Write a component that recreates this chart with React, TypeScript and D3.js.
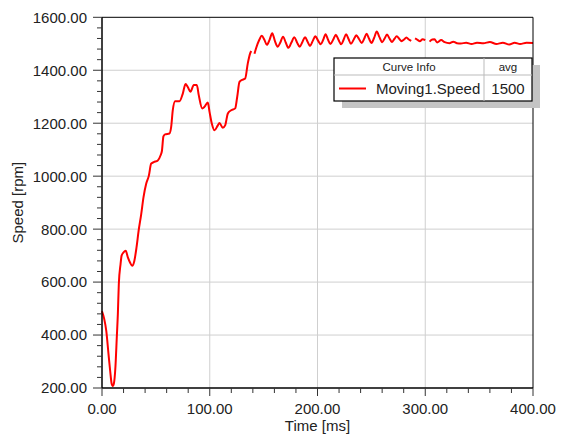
import React from "react";
import * as d3 from "d3";

// Moving1.Speed trace: time in ms, speed in rpm (NaN marks a break in the trace)
const timesMs: number[] = [
  0, 2, 4, 6, 7.5, 9, 10, 11, 12.5, 13.7, 14.7, 15.6, 17.2, 18.2, 20, 22, 24, 26, 28, 30,
  32, 34, 36.4, 38.5, 41, 43.5, 45.6, 48, 51.8, 54.3, 55.6, 57, 58.5, 62.6, 64.2, 65.7, 67.9, 71.9, 75, 77.5,
  79.6, 82.1, 85.2, 88, 89.8, 93, 95.1, 98.2, 99.8, 101.9, 104.4, 107.5, 109, 112.1, 114.3, 116.8, 119.9, 123.6, 125.5, 127.6,
  130.7, 132.9, 135.3, 137.5, 138.5, 139.8, 141.5, 143, 146, 148.3, 150.7, 153, 155.5, 158, 160.5, 163, 165.5, 168, 170.5, 173,
  175.8, 178.5, 181, 183.5, 186, 188.5, 190.8, 193, 195.5, 198, 200.5, 203, 205.3, 207.5, 209.8, 212, 214.5, 217, 219.5, 222,
  224.3, 226.5, 228.8, 231, 233.5, 236, 238.5, 241, 243.3, 245.5, 247.8, 250, 252.5, 255, 257.5, 260, 262.3, 264.5, 266.8, 269,
  271.3, 273.5, 276, 278, 280.3, 282.5, 284.8, 287, 288.5, 290.5, 292.8, 295, 297.5, 300, 302, 304, 306.5, 308.6, 311, 314.8,
  318, 322.5, 326, 329.5, 333, 338, 343, 348, 354, 360, 366, 372, 378, 383, 388, 394, 400,
];
const speedRpm: number[] = [
  490, 462, 415, 330, 268, 215, 207, 216, 282, 389, 478, 592, 667, 700, 712, 718, 693, 674, 662, 680,
  730, 794, 857, 920, 971, 1002, 1047, 1053, 1059, 1078, 1095, 1150, 1158, 1161, 1186, 1249, 1283, 1283, 1312, 1348,
  1337, 1319, 1344, 1344, 1306, 1256, 1262, 1278, 1243, 1199, 1173, 1192, 1201, 1183, 1192, 1237, 1249, 1256, 1300, 1356,
  1365, 1369, 1426, 1464, 1473, NaN, 1462, 1483, 1515, 1530, 1515, 1496, 1515, 1540, 1510, 1489, 1505, 1527, 1505, 1485,
  1505, 1525, 1505, 1489, 1507, 1525, 1508, 1492, 1510, 1528, 1512, 1498, 1515, 1536, 1515, 1499, 1515, 1534, 1515, 1498,
  1516, 1536, 1518, 1500, 1515, 1532, 1518, 1503, 1519, 1538, 1520, 1503, 1522, 1546, 1525, 1506, 1520, 1535, 1520, 1507,
  1518, 1528, 1518, 1510, 1516, 1524, 1516, 1511, NaN, 1520, 1515, 1510, 1517, 1514, NaN, 1508, 1516, 1517, 1505, 1514,
  1506, 1502, 1508, 1502, 1501, 1504, 1499, 1504, 1502, 1507, 1499, 1504, 1497, 1504, 1499, 1504, 1503,
];

const xTicks: number[] = [0, 100, 200, 300, 400];
const yTicks: number[] = [200, 400, 600, 800, 1000, 1200, 1400, 1600];
const seriesName = "Moving1.Speed";
const seriesAvg = "1500";

const W = 566;
const H = 438;
const left = 102;
const right = 533;
const top = 17.3;
const bottom = 388;
const FONT = "Arial, 'Liberation Sans', Helvetica, sans-serif";
const TEXT = "#222";

export default function App() {
  const x = d3.scaleLinear().domain([0, 400]).range([left, right]);
  const y = d3.scaleLinear().domain([200, 1600]).range([bottom, top]);

  const pts = timesMs.map((t, i) => [t, speedRpm[i]] as [number, number]);
  const line = d3
    .line<[number, number]>()
    .defined((d) => !Number.isNaN(d[1]))
    .x((d) => x(d[0]))
    .y((d) => y(d[1]))
    .curve(d3.curveMonotoneX);

  const xMinor = d3.range(0, 401, 20);
  const yMinor = d3.range(200, 1601, 40);

  // legend box geometry
  const lgL = 334, lgR = 532, lgT = 58, lgMid = 75, lgB = 101, lgCol = 484;

  return (
    <svg width={W} height={H} style={{ position: "absolute", left: 0, top: 0, background: "#fff" }}>
      <rect x={0} y={0} width={W} height={H} fill="#fff" />

      {/* grid */}
      {xTicks.slice(1, -1).map((t) => (
        <line key={"gx" + t} x1={x(t)} x2={x(t)} y1={top} y2={bottom} stroke="#cfcfcf" strokeWidth={1} />
      ))}
      {yTicks.slice(1, -1).map((v) => (
        <line key={"gy" + v} x1={left} x2={right} y1={y(v)} y2={y(v)} stroke="#cfcfcf" strokeWidth={1} />
      ))}

      {/* speed trace */}
      <path d={line(pts) || ""} fill="none" stroke="#ff0000" strokeWidth={2} strokeLinejoin="round" />

      {/* frame */}
      <line x1={left} x2={right} y1={top} y2={top} stroke="#000" strokeWidth={1} />
      <line x1={right} x2={right} y1={top} y2={bottom} stroke="#000" strokeWidth={1} />
      <line x1={left} x2={left} y1={top} y2={bottom} stroke="#000" strokeWidth={1.5} />
      <line x1={left} x2={right} y1={bottom} y2={bottom} stroke="#000" strokeWidth={1.5} />

      {/* y ticks */}
      {yMinor.map((v) => (
        <line key={"ym" + v} x1={left - (v % 200 === 0 ? 9 : 5)} x2={left} y1={y(v)} y2={y(v)} stroke="#333" strokeWidth={1} />
      ))}
      {yTicks.map((v) => (
        <text key={"yl" + v} x={left - 15} y={y(v)} dy="0.36em" textAnchor="end" fontFamily={FONT} fontSize={15} fill={TEXT}>
          {v.toFixed(2)}
        </text>
      ))}

      {/* x ticks */}
      {xMinor.map((t) => (
        <line key={"xm" + t} x1={x(t)} x2={x(t)} y1={bottom} y2={bottom + (t % 100 === 0 ? 8 : 5)} stroke="#333" strokeWidth={1} />
      ))}
      {xTicks.map((t) => (
        <text key={"xl" + t} x={x(t)} y={414} textAnchor="middle" fontFamily={FONT} fontSize={15} fill={TEXT}>
          {t.toFixed(2)}
        </text>
      ))}

      {/* axis titles */}
      <text x={(left + right) / 2} y={431} textAnchor="middle" fontFamily={FONT} fontSize={15} fill={TEXT}>
        Time [ms]
      </text>
      <text
        transform={`translate(23, ${(top + bottom) / 2}) rotate(-90)`}
        textAnchor="middle"
        fontFamily={FONT}
        fontSize={15}
        fill={TEXT}
      >
        Speed [rpm]
      </text>

      {/* legend */}
      <rect x={lgL + 8} y={lgT + 7} width={lgR - lgL} height={lgB - lgT} fill="#c4c4c4" />
      <rect x={lgL} y={lgT} width={lgR - lgL} height={lgB - lgT} fill="#fff" stroke="#000" strokeWidth={1.2} />
      <line x1={lgL} x2={lgR} y1={lgMid} y2={lgMid} stroke="#bbb" strokeWidth={1} />
      <line x1={lgCol} x2={lgCol} y1={lgT} y2={lgB} stroke="#bbb" strokeWidth={1} />
      <text x={(lgL + lgCol) / 2} y={71} textAnchor="middle" fontFamily={FONT} fontSize={11.5} fill={TEXT}>
        Curve Info
      </text>
      <text x={(lgCol + lgR) / 2} y={71} textAnchor="middle" fontFamily={FONT} fontSize={11.5} fill={TEXT}>
        avg
      </text>
      <line x1={339} x2={366} y1={88.5} y2={88.5} stroke="#ff0000" strokeWidth={2} />
      <text x={376} y={94} fontFamily={FONT} fontSize={15} fill={TEXT}>
        {seriesName}
      </text>
      <text x={(lgCol + lgR) / 2} y={94} textAnchor="middle" fontFamily={FONT} fontSize={15} fill={TEXT}>
        {seriesAvg}
      </text>
    </svg>
  );
}
